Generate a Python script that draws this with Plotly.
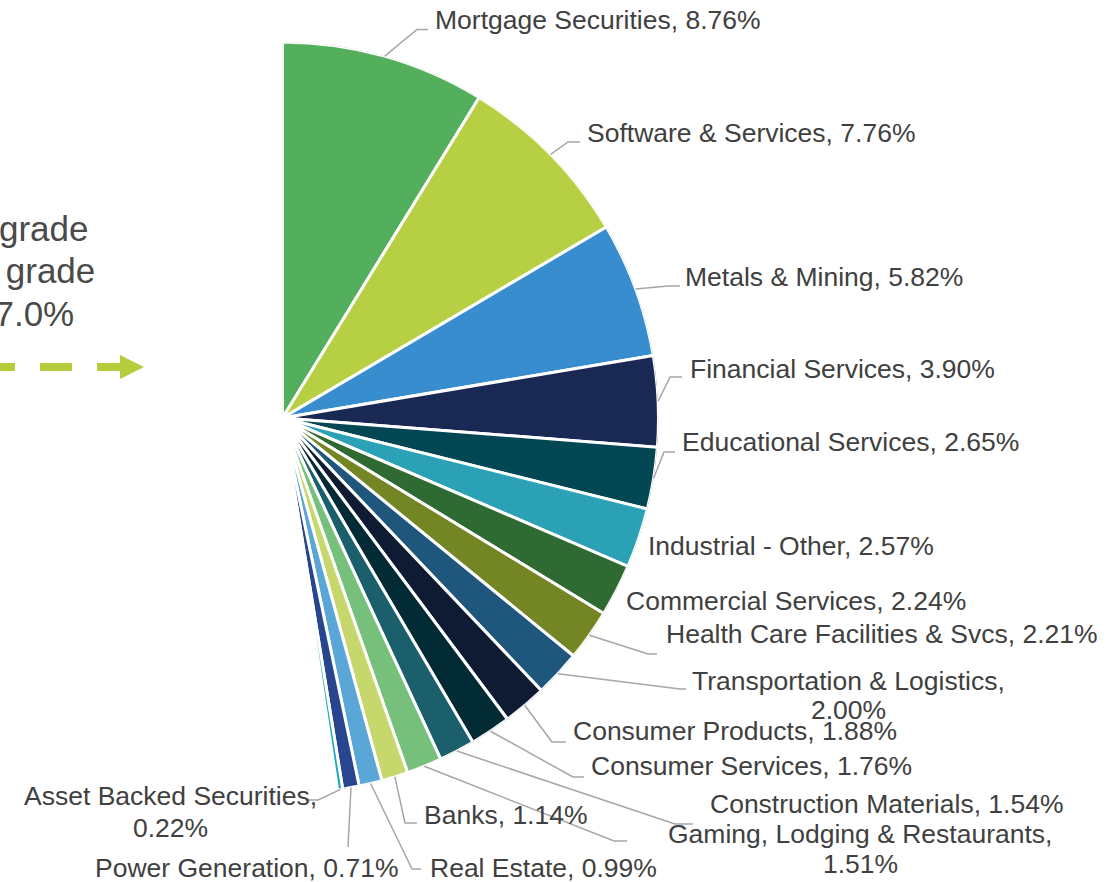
import plotly.graph_objects as go
import math

W, H = 1114, 882

# ---------------- data ----------------
categories = [
    "Mortgage Securities", "Software & Services", "Metals & Mining",
    "Financial Services", "Educational Services", "Industrial - Other",
    "Commercial Services", "Health Care Facilities & Svcs",
    "Transportation & Logistics", "Consumer Products", "Consumer Services",
    "Construction Materials", "Gaming, Lodging & Restaurants", "Banks",
    "Real Estate", "Power Generation", "Asset Backed Securities",
]
values = [8.76, 7.76, 5.82, 3.90, 2.65, 2.57, 2.24, 2.21, 2.00, 1.88,
          1.76, 1.54, 1.51, 1.14, 0.99, 0.71, 0.22]
colors = ["#53AF5B", "#B7D043", "#378DCD", "#1A2953", "#034755",
          "#2BA1B6", "#2F6A33", "#738623", "#1F577C", "#0F1A33",
          "#022B35", "#1A5F6B", "#76C07B", "#C6D86B", "#5AA6D6",
          "#27468F", "#1AA6C1"]

side_lines = ["Below Investment grade", "Non-Investment grade", "47.0%"]

# ---------------- layout helpers ----------------
def px(x):
    return x / W

def py(y):
    return 1 - y / H

CX, CY, R = 282.5, 418.0, 376.0   # pie centre / radius in pixels

# label placement (pixels): x, y-centre(s), anchor
label_pos = [
    (433, [20], "left"), (585, [133], "left"), (683, [277], "left"),
    (688, [369], "left"), (680, [442], "left"), (646, [546], "left"),
    (624, [601], "left"), (664, [634], "left"), (848, [681, 710], "center"),
    (571, [731], "left"), (589, [766], "left"), (708, [804], "left"),
    (860, [834, 864], "center"), (422, [815], "left"), (428, [868], "left"),
    (93, [868], "left"), (170, [796, 828], "center"),
]

leader_bends = [
    [(417, 29.5), (428, 29.5)],
    [(568, 142), (580, 142)],
    [(668, 286), (680, 286)],
    [(670, 377), (682, 377)],
    [(664, 452), (675, 452)],
    [],
    [],
    [(648, 654), (657, 654)],
    [(680, 689), (686, 689)],
    [(552, 742), (566, 742)],
    [(573, 777), (584, 777)],
    [(675, 824), (693, 824)],
    [(614, 841), (627, 841)],
    [(405, 823), (417, 823)],
    [(412, 869), (421, 869)],
    [(348, 847)],
    [(318, 800), (305, 800)],
]

# ---------------- slices ----------------
cum = []
s = 0.0
for v in values:
    cum.append(s)
    s += v
mids = [(c + v / 2) * 3.6 for c, v in zip(cum, values)]
widths = [v * 3.6 for v in values]

fig = go.Figure()
fig.add_trace(go.Barpolar(
    r=[1] * len(values), theta=mids, width=widths,
    marker=dict(color=colors, line=dict(color="white", width=3)),
    text=categories, hoverinfo="text", showlegend=False,
))

FONT = "Liberation Sans, Arial"
shapes = []
annotations = []
for i, (cat, v) in enumerate(zip(categories, values)):
    a = math.radians(mids[i])
    sx = CX + R * math.sin(a)
    sy = CY - R * math.cos(a)
    pts = [(sx, sy)] + leader_bends[i]
    if len(pts) > 1:
        path = "M " + " L ".join(f"{px(x):.5f},{py(y):.5f}" for x, y in pts)
        shapes.append(dict(type="path", xref="paper", yref="paper", path=path,
                           line=dict(color="#A6A6A6", width=1.5)))
    lx, lys, anc = label_pos[i]
    if len(lys) == 1:
        lines = [f"{cat}, {v:.2f}%"]
    else:
        lines = [f"{cat},", f"{v:.2f}%"]
    for txt, ly in zip(lines, lys):
        annotations.append(dict(
            text=txt, x=px(lx), y=py(ly), xref="paper", yref="paper",
            xanchor=anc, yanchor="middle", showarrow=False,
            font=dict(family=FONT, size=26.5, color="#404040"),
        ))

# side text (cut by the left edge, as in the reference)
for txt, ex, cy in zip(side_lines, [90, 97, 76], [228, 270, 313]):
    annotations.append(dict(
        text=txt, x=px(ex), y=py(cy), xref="paper", yref="paper",
        xanchor="right", yanchor="middle", showarrow=False,
        font=dict(family=FONT, size=35, color="#4A4A4A"),
    ))

# dashed arrow
ARROW = "#B5CD3C"
shapes.append(dict(type="line", xref="paper", yref="paper",
                   x0=px(-17), y0=py(367), x1=px(121), y1=py(367),
                   line=dict(color=ARROW, width=8, dash="32px,25px")))
shapes.append(dict(type="path", xref="paper", yref="paper",
                   path=f"M {px(120)},{py(355)} L {px(144)},{py(367)} L {px(120)},{py(379)} Z",
                   fillcolor=ARROW, line=dict(color=ARROW, width=0)))

fig.update_layout(
    width=W, height=H,
    margin=dict(l=0, r=0, t=0, b=0),
    paper_bgcolor="white",
    showlegend=False,
    polar=dict(
        domain=dict(x=[px(CX), px(CX + R)], y=[py(CY + R), py(CY - R)]),
        sector=[-90, 90],
        bgcolor="rgba(0,0,0,0)",
        radialaxis=dict(visible=False, range=[0, 1]),
        angularaxis=dict(visible=False, rotation=90, direction="clockwise"),
    ),
    shapes=shapes,
    annotations=annotations,
)

fig.write_html("out.html", config={"displayModeBar": False},
               post_script="document.body.style.margin='0px';")
